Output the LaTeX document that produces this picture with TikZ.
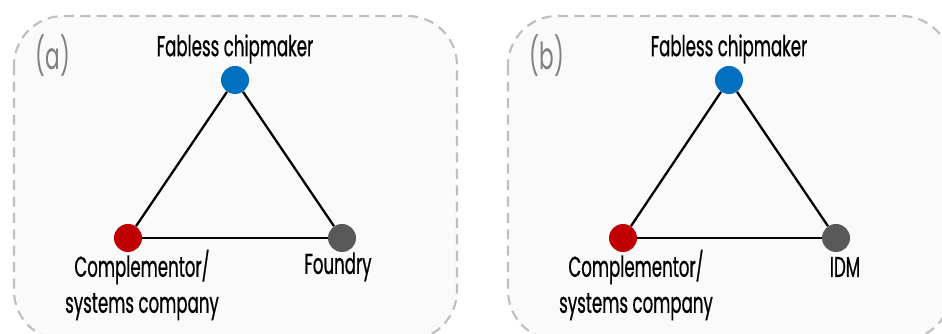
\documentclass[tikz,border=0pt]{standalone}
\usepackage{fontspec}
\setmainfont[FakeStretch=0.58, FakeBold=0.6]{Poppins}
\newfontfamily\tagfont[FakeStretch=0.58]{Poppins}
\definecolor{nodeblue}{HTML}{0070C0}
\definecolor{nodered}{HTML}{C00000}
\definecolor{nodegray}{HTML}{595959}
\definecolor{panelfill}{HTML}{FAFAFA}
\definecolor{paneledge}{HTML}{BFBFBF}
\definecolor{tagcolor}{HTML}{808080}
\tikzset{
  panel/.style={draw=paneledge, fill=panelfill, line width=1.6pt,
    dash pattern=on 7.5pt off 4.8pt, rounded corners=37pt},
  dot/.style={circle, minimum size=21pt, inner sep=0pt},
  link/.style={draw=black, line width=1.7pt},
  lbl/.style={font=\fontsize{21.5}{27}\selectfont, text=black, inner sep=0pt, align=center},
  tag/.style={font=\tagfont\fontsize{28}{30}\selectfont, text=tagcolor, inner sep=0pt}
}
\begin{document}
\begin{tikzpicture}[x=0.75pt, y=-0.75pt]
\useasboundingbox (0,0) rectangle (942,334);
\clip (0,0) rectangle (942,334);
\fill[white] (0,0) rectangle (942,334);

% panels
\path[panel] (14,16) rectangle (457,340);
\path[panel] (508,16) rectangle (951,340);

% panel (a)
\node[tag] (ta) at (53,56) {(a)};
\node[dot, fill=nodeblue] (fa) at (235,80) {};
\node[dot, fill=nodered] (ca) at (128,238) {};
\node[dot, fill=nodegray] (da) at (342,238) {};
\draw[link] (fa) -- (ca);
\draw[link] (fa) -- (da);
\draw[link] (ca) -- (da);
\node[lbl] (lfa) at (235,49) {Fabless chipmaker};
\node[lbl] (lca) at (142,285) {Complementor/\\systems company};
\node[lbl] (lda) at (338,267) {Foundry};

% panel (b)
\node[tag] (tb) at (547,56) {(b)};
\node[dot, fill=nodeblue] (fb) at (729,80) {};
\node[dot, fill=nodered] (cb) at (623,238) {};
\node[dot, fill=nodegray] (db) at (836,238) {};
\draw[link] (fb) -- (cb);
\draw[link] (fb) -- (db);
\draw[link] (cb) -- (db);
\node[lbl] (lfb) at (729,49) {Fabless chipmaker};
\node[lbl] (lcb) at (636,285) {Complementor/\\systems company};
\node[lbl] (ldb) at (845,267) {IDM};
\end{tikzpicture}
\end{document}
